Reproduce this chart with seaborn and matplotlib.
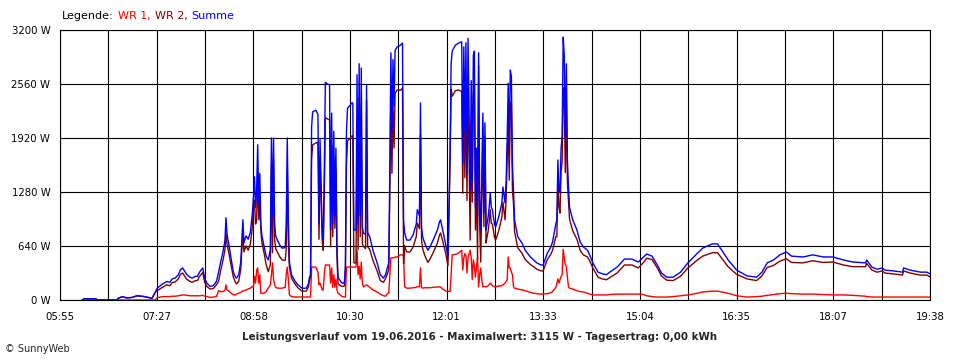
import numpy as np
import pandas as pd
import matplotlib
matplotlib.use("Agg")
import matplotlib.pyplot as plt
import seaborn as sns
from matplotlib.offsetbox import TextArea, HPacker, AnchoredOffsetbox

zeit = [
    "06:16", "06:18", "06:29", "06:30", "06:49", "06:50", "06:54", "06:58", "07:03", "07:08",
    "07:15", "07:20", "07:22", "07:25", "07:27", "07:30", "07:32", "07:36", "07:39", "07:41",
    "07:44", "07:47", "07:49", "07:51", "07:53", "07:55", "07:58", "08:00", "08:03", "08:05",
    "08:07", "08:10", "08:12", "08:14", "08:17", "08:20", "08:23", "08:25", "08:27", "08:29",
    "08:31", "08:32", "08:33", "08:35", "08:37", "08:39", "08:41", "08:42", "08:44", "08:46",
    "08:47", "08:48", "08:49", "08:51", "08:53", "08:55", "08:57", "08:58", "08:59", "09:00",
    "09:01", "09:02", "09:03", "09:04", "09:05", "09:06", "09:08", "09:10", "09:12", "09:14",
    "09:15", "09:16", "09:17", "09:18", "09:19", "09:21", "09:23", "09:25", "09:28", "09:29",
    "09:30", "09:31", "09:32", "09:34", "09:37", "09:40", "09:44", "09:48", "09:50", "09:51",
    "09:52", "09:53", "09:54", "09:57", "09:59", "10:00", "10:01", "10:03", "10:04", "10:05",
    "10:06", "10:08", "10:10", "10:11", "10:12", "10:13", "10:14", "10:15", "10:16", "10:17",
    "10:18", "10:20", "10:22", "10:24", "10:25", "10:26", "10:27", "10:29", "10:31", "10:32",
    "10:33", "10:35", "10:36", "10:37", "10:38", "10:39", "10:40", "10:41", "10:42", "10:44",
    "10:45", "10:46", "10:48", "10:51", "10:55", "10:58", "11:01", "11:03", "11:05", "11:06",
    "11:07", "11:08", "11:09", "11:10", "11:11", "11:12", "11:14", "11:17", "11:19", "11:20",
    "11:21", "11:22", "11:23", "11:26", "11:29", "11:32", "11:33", "11:35", "11:36", "11:37",
    "11:38", "11:40", "11:43", "11:45", "11:48", "11:52", "11:54", "11:55", "11:57", "12:00",
    "12:02", "12:04", "12:05", "12:06", "12:09", "12:12", "12:15", "12:16", "12:17", "12:18",
    "12:19", "12:20", "12:21", "12:22", "12:23", "12:24", "12:25", "12:26", "12:27", "12:28",
    "12:29", "12:30", "12:31", "12:32", "12:33", "12:34", "12:35", "12:36", "12:37", "12:38",
    "12:39", "12:40", "12:41", "12:42", "12:43", "12:44", "12:46", "12:47", "12:48", "12:50",
    "12:53", "12:54", "12:56", "12:57", "12:58", "12:59", "13:00", "13:01", "13:02", "13:03",
    "13:04", "13:05", "13:08", "13:12", "13:15", "13:20", "13:23", "13:26", "13:30", "13:32",
    "13:36", "13:39", "13:41", "13:44", "13:45", "13:46", "13:47", "13:48", "13:49", "13:50",
    "13:51", "13:52", "13:53", "13:54", "13:55", "13:56", "13:57", "14:00", "14:04", "14:07",
    "14:10", "14:14", "14:16", "14:19", "14:24", "14:28", "14:32", "14:35", "14:42", "14:49",
    "14:56", "15:02", "15:07", "15:10", "15:15", "15:20", "15:24", "15:29", "15:35", "15:42",
    "15:49", "15:58", "16:03", "16:12", "16:17", "16:21", "16:27", "16:35", "16:45", "16:54",
    "16:59", "17:04", "17:10", "17:16", "17:22", "17:27", "17:38", "17:47", "17:57", "18:06",
    "18:16", "18:25", "18:37", "18:38", "18:43", "18:48", "18:53", "18:55", "19:03", "19:12",
    "19:13", "19:19", "19:29", "19:35", "19:38",
]

summe = [
    0, 15, 15, 0, 0, 20, 40, 25, 30, 50,
    40, 25, 20, 90, 140, 170, 190, 220, 210, 250,
    260, 300, 360, 380, 340, 300, 270, 260, 280, 280,
    330, 380, 250, 200, 160, 170, 220, 330, 450, 560,
    700, 975, 780, 640, 480, 330, 270, 260, 300, 450,
    690, 950, 680, 760, 720, 800, 1030, 1220, 1460, 1100,
    1300, 1840, 1150, 1500, 900, 760, 640, 520, 475, 600,
    1920, 1000, 1920, 900, 760, 700, 650, 615, 620, 900,
    1920, 950, 450, 300, 230, 180, 140, 140, 190, 270,
    300, 2050, 2230, 2250, 2200, 900, 1900, 830, 710, 1500,
    2580, 2560, 2550, 830, 2215, 900, 2000, 1000, 1800, 630,
    270, 230, 200, 200, 400, 2000, 2275, 2300, 2335, 2335,
    830, 830, 2670, 900, 2800, 1000, 2750, 865, 790, 780,
    2550, 800, 750, 590, 440, 300, 260, 300, 400, 440,
    1540, 2930, 2000, 2850, 2300, 2960, 3000, 3020, 3045, 950,
    800, 750, 710, 710, 770, 900, 1070, 1000, 2335, 865,
    750, 675, 590, 630, 710, 830, 925, 950, 830, 650,
    510, 1740, 2800, 2950, 3020, 3045, 3060, 1620, 3000, 2000,
    3050, 1500, 3100, 2200, 1300, 2600, 1400, 2900, 2950, 1100,
    1800, 985, 2930, 1200, 830, 1400, 2215, 1030, 2100, 830,
    910, 985, 1100, 1270, 1100, 1070, 900, 865, 900, 985,
    1150, 1340, 1150, 1400, 1900, 2570, 1800, 2725, 2650, 1600,
    1300, 950, 750, 675, 590, 510, 475, 440, 415, 415,
    555, 620, 690, 900, 950, 1660, 1300, 1270, 1800, 1930,
    3115, 2900, 1930, 2800, 1660, 1340, 1100, 950, 830, 690,
    630, 590, 535, 440, 330, 310, 300, 330, 390, 485,
    485, 450, 510, 545, 520, 415, 320, 270, 270, 330,
    440, 555, 615, 665, 665, 590, 475, 355, 285, 270,
    330, 440, 475, 535, 570, 520, 510, 535, 510, 510,
    475, 450, 440, 475, 390, 365, 380, 355, 345, 330,
    380, 355, 330, 330, 310,
]

wr1 = [
    0, 0, 0, 0, 0, 0, 0, 0, 0, 0,
    0, 0, 0, 0, 30, 35, 40, 40, 40, 45,
    45, 50, 55, 60, 60, 55, 50, 50, 50, 50,
    50, 55, 45, 40, 30, 35, 40, 110, 100, 100,
    110, 180, 120, 100, 80, 60, 60, 70, 80, 90,
    100, 110, 110, 120, 130, 140, 160, 150, 280, 200,
    350, 380, 200, 300, 80, 80, 80, 100, 140, 180,
    300, 440, 250, 180, 150, 140, 140, 140, 150, 300,
    390, 250, 60, 40, 35, 35, 35, 35, 35, 35,
    35, 390, 390, 390, 330, 180, 200, 120, 120, 300,
    415, 415, 415, 200, 380, 150, 300, 150, 250, 120,
    80, 60, 40, 35, 35, 390, 390, 390, 390, 390,
    390, 390, 590, 300, 400, 250, 450, 200, 155, 170,
    180, 170, 150, 120, 95, 70, 50, 45, 80, 80,
    300, 500, 500, 500, 500, 510, 510, 535, 535, 520,
    155, 150, 140, 140, 145, 150, 160, 155, 380, 150,
    140, 145, 145, 145, 150, 155, 155, 155, 130, 105,
    105, 100, 300, 535, 540, 555, 590, 355, 500, 550,
    530, 320, 500, 550, 590, 500, 240, 475, 400, 270,
    400, 500, 155, 300, 380, 240, 155, 160, 160, 155,
    160, 170, 180, 200, 190, 170, 155, 155, 160, 165,
    170, 180, 200, 220, 240, 510, 380, 380, 330, 300,
    155, 140, 130, 120, 110, 90, 80, 75, 70, 70,
    75, 85, 100, 150, 200, 250, 200, 240, 280, 300,
    600, 500, 420, 400, 270, 155, 140, 130, 110, 100,
    95, 80, 70, 60, 60, 60, 60, 65, 70, 70,
    70, 70, 65, 50, 40, 35, 35, 35, 40, 50,
    60, 80, 95, 105, 105, 95, 80, 50, 35, 40,
    45, 55, 65, 75, 80, 75, 70, 70, 65, 60,
    60, 55, 45, 40, 35, 35, 35, 35, 35, 35,
    35, 35, 35, 35, 35,
]

y_ticks = [0, 640, 1280, 1920, 2560, 3200]
y_labels = ["0 W", "640 W", "1280 W", "1920 W", "2560 W", "3200 W"]
x_labels = ["05:55", "07:27", "08:58", "10:30", "12:01", "13:33",
            "15:04", "16:35", "18:07", "19:38"]

farben = {"WR 1": "#ff0000", "WR 2": "#800000", "Summe": "#0000ff"}

minuten = [int(t[:2]) * 60 + int(t[3:]) for t in zeit]
df = pd.DataFrame({"Zeit": minuten, "WR 1": wr1, "Summe": summe})
df["WR 2"] = df["Summe"] - df["WR 1"]
df_long = df.melt(id_vars="Zeit", value_vars=["WR 1", "WR 2", "Summe"],
                  var_name="Serie", value_name="Leistung")

sns.set_style("white")
plt.rcParams["font.family"] = ["DejaVu Sans"]

fig = plt.figure(figsize=(9.6, 3.6), dpi=100)
ax = fig.add_axes([60 / 960, 1 - 300 / 360, 870 / 960, 270 / 360])

sns.lineplot(data=df_long, x="Zeit", y="Leistung", hue="Serie",
             hue_order=["WR 1", "WR 2", "Summe"], palette=farben,
             estimator=None, legend=False, linewidth=1.0, ax=ax)

start, ende = 355, 1178
ax.set_xlim(start, ende)
ax.set_ylim(0, 3200)
ax.set_xticks(np.linspace(start, ende, 10))
ax.set_xticklabels(x_labels)
ax.set_xticks(np.linspace(start, ende, 19), minor=True)
ax.set_yticks(y_ticks)
ax.set_yticklabels(y_labels)
ax.grid(True, which="both", color="black", linewidth=0.8)
ax.set_axisbelow(True)
ax.tick_params(axis="both", which="both", direction="out", length=4,
               width=0.8, color="black", labelsize=7.3, labelcolor="black")
ax.tick_params(axis="x", pad=5)
ax.tick_params(axis="y", pad=3)
ax.set_xlabel("")
ax.set_ylabel("")
for s in ax.spines.values():
    s.set_color("black")
    s.set_linewidth(0.8)

# Legende als farbiger Text
teile = [("Legende:", "black"), ("WR 1,", farben["WR 1"]),
         ("WR 2,", farben["WR 2"]), ("Summe", farben["Summe"])]
box = HPacker(children=[TextArea(t, textprops=dict(color=c, size=8)) for t, c in teile],
              align="baseline", pad=0, sep=3)
anker = AnchoredOffsetbox(loc="lower left", child=box, pad=0, frameon=False,
                          borderpad=0, bbox_to_anchor=(62 / 960, 1 - 21 / 360),
                          bbox_transform=fig.transFigure)
fig.add_artist(anker)

fig.text(0.5, 1 - 337 / 360,
         "Leistungsverlauf vom 19.06.2016 - Maximalwert: 3115 W - Tagesertrag: 0,00 kWh",
         ha="center", va="center", fontsize=7.4, fontweight="bold")
fig.text(5 / 960, 1 - 349 / 360, "© SunnyWeb", ha="left", va="center", fontsize=7)

fig.savefig("out.png", dpi=100, facecolor="white")
